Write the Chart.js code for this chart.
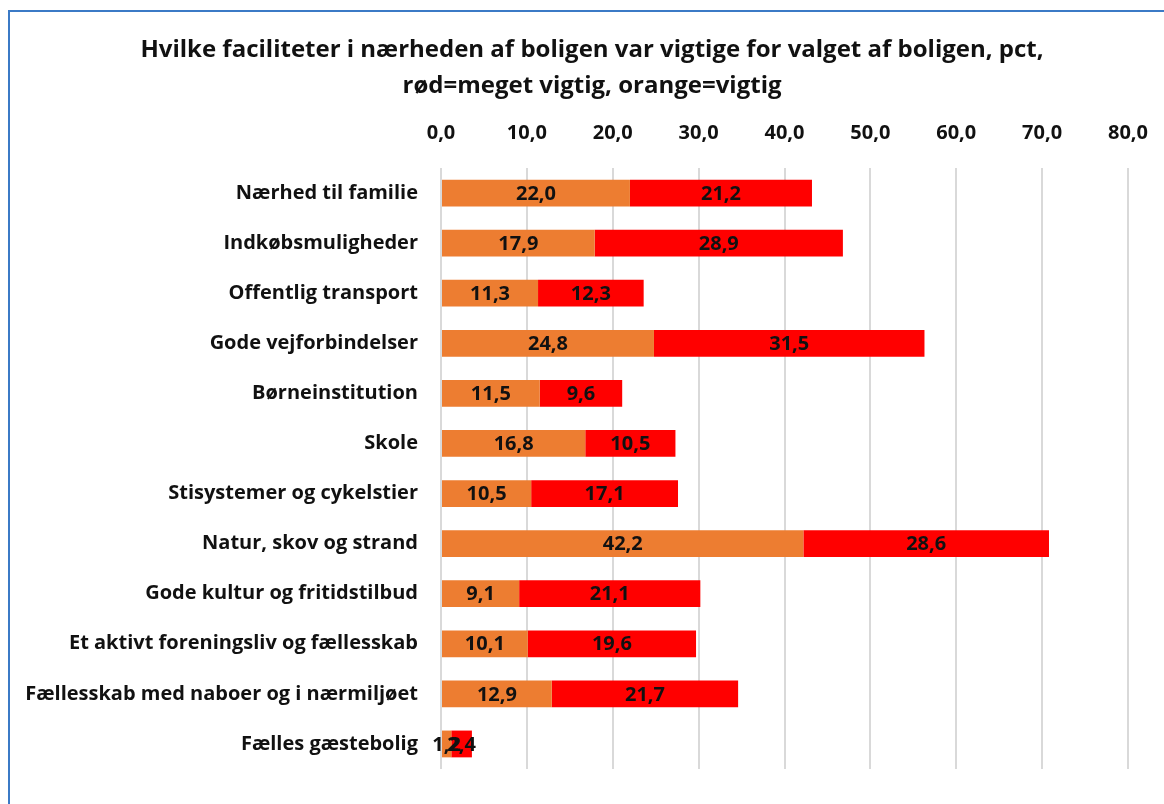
<!DOCTYPE html>
<html>
<head>
<meta charset="utf-8">
<script src="https://cdn.jsdelivr.net/npm/chart.js@4"></script>
<style>
  html, body { margin: 0; padding: 0; background: #fff; overflow: hidden; }
  #wrap { position: relative; width: 1164px; height: 804px; }
  #frame { position: absolute; left: 8px; top: 10px; width: 1200px; height: 900px; border: 2px solid #3b7ac6; box-sizing: border-box; }
  canvas { position: absolute; left: 0; top: 0; }
</style>
</head>
<body>
<div id="wrap">
  <div id="frame"></div>
  <canvas id="c" width="1164" height="804"></canvas>
</div>
<script>
const categories = [
  "Nærhed til familie",
  "Indkøbsmuligheder",
  "Offentlig transport",
  "Gode vejforbindelser",
  "Børneinstitution",
  "Skole",
  "Stisystemer og cykelstier",
  "Natur, skov og strand",
  "Gode kultur og fritidstilbud",
  "Et aktivt foreningsliv og fællesskab",
  "Fællesskab med naboer og i nærmiljøet",
  "Fælles gæstebolig"
];
const vigtig = [22.0, 17.9, 11.3, 24.8, 11.5, 16.8, 10.5, 42.2, 9.1, 10.1, 12.9, 1.2];
const megetVigtig = [21.2, 28.9, 12.3, 31.5, 9.6, 10.5, 17.1, 28.6, 21.1, 19.6, 21.7, 2.4];
const titleLines = [
  "Hvilke faciliteter i nærheden af boligen var vigtige for valget af boligen, pct,",
  "rød=meget vigtig, orange=vigtig"
];

const FONT = "'Open Sans', sans-serif";
const fmt = v => Number(v).toFixed(1).replace('.', ',');

const titlePlugin = {
  id: 'shiftedTitle',
  afterDraw(chart) {
    const ctx = chart.ctx;
    ctx.save();
    ctx.font = "bold 24px " + FONT;
    ctx.fillStyle = "#111";
    ctx.textAlign = "center";
    ctx.textBaseline = "middle";
    titleLines.forEach((t, i) => ctx.fillText(t, 592, 50 + i * 36));
    ctx.restore();
  }
};

const labelPlugin = {
  id: 'barLabels',
  afterDatasetsDraw(chart) {
    const ctx = chart.ctx;
    ctx.save();
    ctx.font = "bold 20px " + FONT;
    ctx.fillStyle = "#111";
    ctx.textAlign = "center";
    ctx.textBaseline = "middle";
    chart.data.datasets.forEach((ds, di) => {
      const meta = chart.getDatasetMeta(di);
      meta.data.forEach((bar, i) => {
        const p = bar.getProps(['x', 'y', 'base'], true);
        const cx = (p.x + p.base) / 2;
        ctx.fillText(fmt(ds.data[i]), cx, p.y + 1);
      });
    });
    ctx.restore();
  }
};

new Chart(document.getElementById('c'), {
  type: 'bar',
  data: {
    labels: categories,
    datasets: [
      { label: 'vigtig', data: vigtig, backgroundColor: '#ED7D31', categoryPercentage: 1, barPercentage: 0.535 },
      { label: 'meget vigtig', data: megetVigtig, backgroundColor: '#FF0000', categoryPercentage: 1, barPercentage: 0.535 }
    ]
  },
  options: {
    indexAxis: 'y',
    responsive: false,
    animation: false,
    layout: { padding: { left: 0, right: 36, top: 104, bottom: 22 } },
    plugins: {
      legend: { display: false },
      tooltip: { enabled: false },
      title: { display: false }
    },
    scales: {
      x: {
        position: 'top',
        stacked: true,
        min: 0, max: 80,
        ticks: { stepSize: 10, callback: v => fmt(v), color: '#111', padding: 23,
                 font: { family: FONT, size: 20, weight: 'bold' } },
        grid: { color: '#d9d9d9', lineWidth: 2, drawTicks: false },
        border: { display: false },
        afterFit(scale) { scale.height = 64; scale.paddingRight = 0; scale.paddingLeft = 0; }
      },
      y: {
        stacked: true,
        ticks: { color: '#111', padding: 23, font: { family: FONT, size: 20, weight: 'bold' } },
        grid: { display: false, drawTicks: false },
        border: { display: false },
        afterFit(scale) { scale.width = 441; }
      }
    }
  },
  plugins: [labelPlugin, titlePlugin]
});
</script>
</body>
</html>
